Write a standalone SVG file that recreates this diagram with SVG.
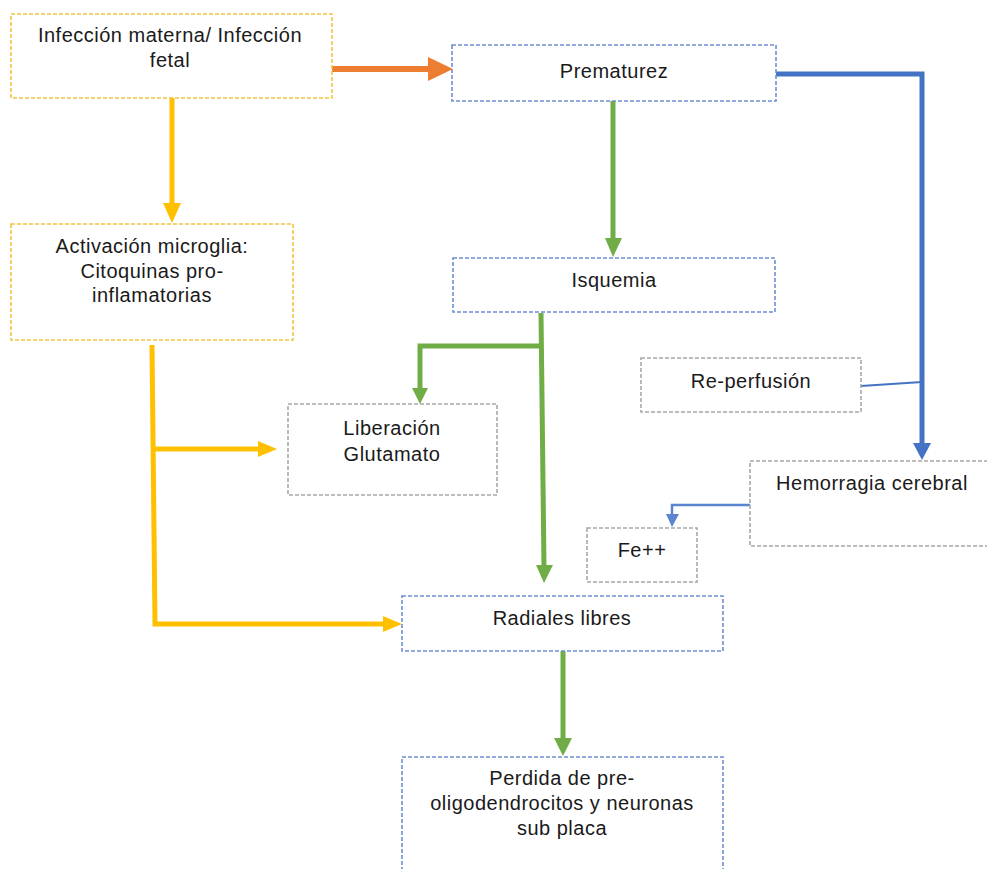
<svg xmlns="http://www.w3.org/2000/svg" width="987" height="869" viewBox="0 0 987 869">
  <style>
    .box { fill: #ffffff; stroke-width: 1.6; stroke-dasharray: 4 2; }
    .yel { stroke: #f2c53d; }
    .blu { stroke: #6f8fcf; }
    .gry { stroke: #a8a8a8; }
    text { font-family: "Liberation Sans", Arial, sans-serif; font-size: 20px; fill: #1a1a1a; text-anchor: middle; letter-spacing: 0.5px; }
    .c { fill: none; stroke-linejoin: miter; }
  </style>

  <rect width="987" height="869" fill="#ffffff"/>

  <!-- connectors -->
  <g id="connectors">
    <!-- infection -> prematurity -->
    <line class="c" x1="332" y1="69" x2="430" y2="69" stroke="#ed7d31" stroke-width="6"/>
    <polygon points="428,57 453,69 428,81" fill="#ed7d31"/>

    <!-- infection -> microglia -->
    <line class="c" x1="172" y1="98" x2="172" y2="205" stroke="#ffc000" stroke-width="5"/>
    <polygon points="163,203 181,203 172,223" fill="#ffc000"/>

    <!-- microglia -> glutamate / free radicals -->
    <polyline class="c" points="152,345 155,624 385,624" stroke="#ffc000" stroke-width="5"/>
    <line class="c" x1="153" y1="449" x2="260" y2="449" stroke="#ffc000" stroke-width="5"/>
    <polygon points="258,441 277,449 258,457" fill="#ffc000"/>
    <polygon points="383,616 402,624 383,632" fill="#ffc000"/>

    <!-- prematurity -> ischemia -->
    <line class="c" x1="613" y1="101" x2="613" y2="240" stroke="#70ad47" stroke-width="5"/>
    <polygon points="605,238 622,238 613,257" fill="#70ad47"/>

    <!-- ischemia -> glutamate / free radicals -->
    <polyline class="c" points="541,313 544,567" stroke="#70ad47" stroke-width="5"/>
    <polyline class="c" points="542,346 420,346 420,390" stroke="#70ad47" stroke-width="5"/>
    <polygon points="412,388 428,388 420,404" fill="#70ad47"/>
    <polygon points="536,565 553,565 544,583" fill="#70ad47"/>

    <!-- free radicals -> loss -->
    <line class="c" x1="563" y1="651" x2="563" y2="740" stroke="#70ad47" stroke-width="5"/>
    <polygon points="554,738 572,738 563,756" fill="#70ad47"/>

    <!-- prematurity -> hemorrhage -->
    <polyline class="c" points="776,74 922,74 922,445" stroke="#4472c4" stroke-width="5"/>
    <polygon points="913,443 931,443 922,460" fill="#4472c4"/>
    <line class="c" x1="861" y1="386" x2="922" y2="382" stroke="#4472c4" stroke-width="2"/>

    <!-- hemorrhage -> Fe++ -->
    <polyline class="c" points="750,505 672,505 672,515" stroke="#5b85d0" stroke-width="2.5"/>
    <polygon points="666,514 679,514 672,527" fill="#5b85d0"/>
  </g>

  <g id="infeccion">
    <rect class="box yel" x="11" y="14" width="321" height="84"/>
    <text x="170" y="42">Infección materna/ Infección</text>
    <text x="170" y="67">fetal</text>
  </g>

  <g id="prematurez">
    <rect class="box blu" x="452" y="45" width="324" height="56"/>
    <text x="614" y="78">Prematurez</text>
  </g>

  <g id="microglia">
    <rect class="box yel" x="11" y="224" width="282" height="116"/>
    <text x="152" y="253">Activación microglia:</text>
    <text x="152" y="278">Citoquinas pro-</text>
    <text x="152" y="302">inflamatorias</text>
  </g>

  <g id="isquemia">
    <rect class="box blu" x="453" y="258" width="322" height="54"/>
    <text x="614" y="287">Isquemia</text>
  </g>

  <g id="glutamato">
    <rect class="box gry" x="288" y="404" width="209" height="91"/>
    <text x="392" y="435">Liberación</text>
    <text x="392" y="461">Glutamato</text>
  </g>

  <g id="reperfusion">
    <rect class="box gry" x="641" y="358" width="220" height="54"/>
    <text x="751" y="388">Re-perfusión</text>
  </g>

  <g id="hemorragia">
    <rect class="box gry" x="750" y="461" width="245" height="85"/>
    <text x="872" y="490">Hemorragia cerebral</text>
  </g>

  <g id="hierro">
    <rect class="box gry" x="587" y="528" width="110" height="54"/>
    <text x="642" y="557">Fe++</text>
  </g>

  <g id="radicales">
    <rect class="box blu" x="402" y="596" width="321" height="55"/>
    <text x="562" y="625">Radiales libres</text>
  </g>

  <g id="perdida">
    <rect class="box blu" x="402" y="757" width="321" height="120"/>
    <text x="562" y="785">Perdida de pre-</text>
    <text x="562" y="810">oligodendrocitos y neuronas</text>
    <text x="562" y="835">sub placa</text>
  </g>
</svg>
